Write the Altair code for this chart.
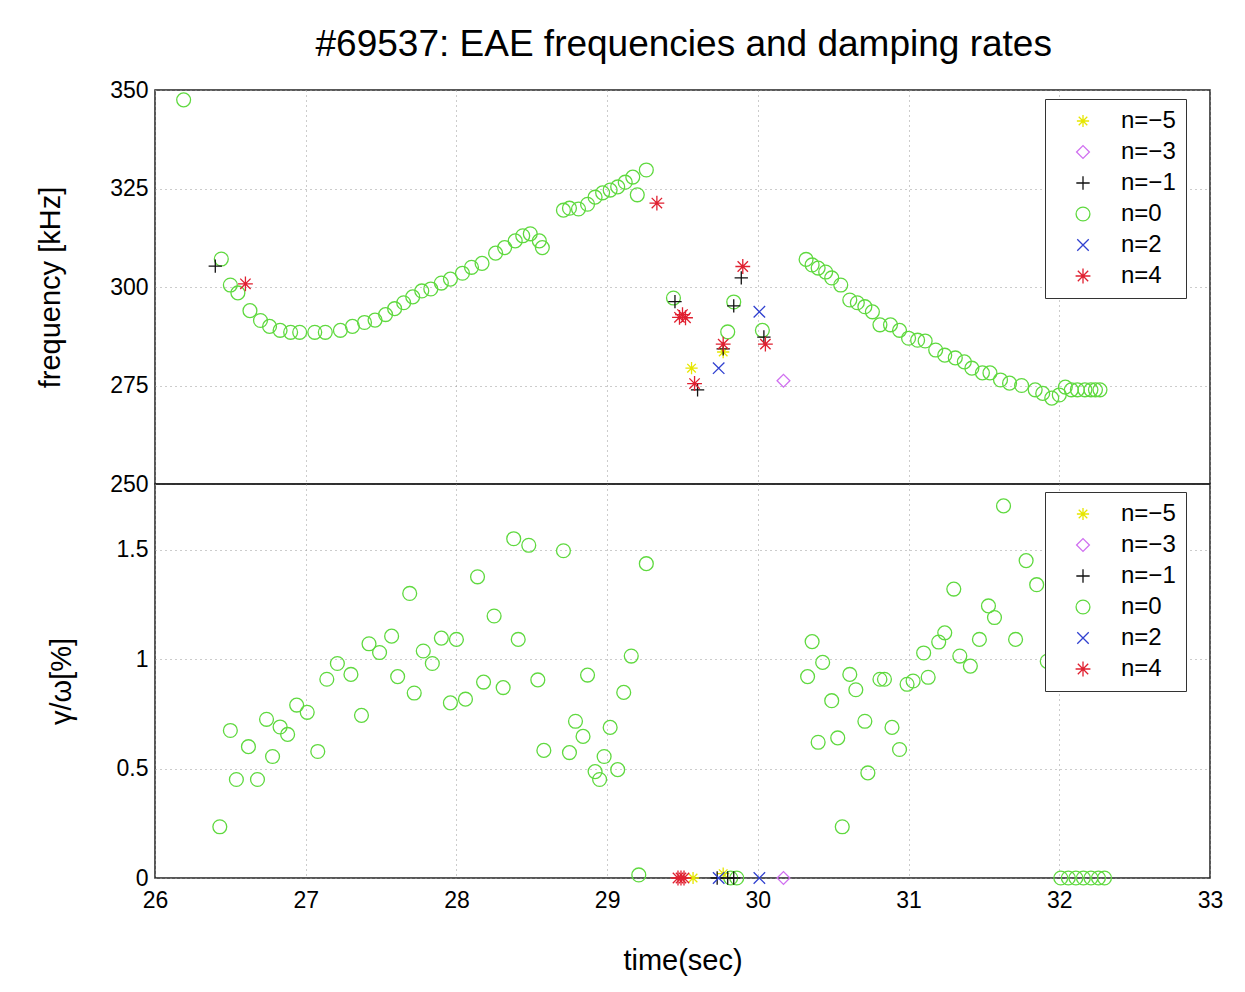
import altair as alt
import pandas as pd

TITLE = "#69537: EAE frequencies and damping rates"
MODES = ["n=\u22125", "n=\u22123", "n=\u22121", "n=0", "n=2", "n=4"]
COLORS = ["#e6e600", "#d070f0", "#111111", "#5fd93f", "#3040d0", "#e02030"]
STAR = "M-1,0L1,0M0,-1L0,1M-0.7,-0.7L0.7,0.7M-0.7,0.7L0.7,-0.7"
PLUS = "M-1,0L1,0M0,-1L0,1"
XMARK = "M-0.8,-0.8L0.8,0.8M-0.8,0.8L0.8,-0.8"
SHAPES = [STAR, "diamond", PLUS, "circle", XMARK, STAR]
SIZES = [150, 220, 170, 240, 110, 150]

X_TICKS = [26, 27, 28, 29, 30, 31, 32, 33]
F_TICKS = [250, 275, 300, 325, 350]
G_TICKS = [0, 0.5, 1, 1.5]

# ---------------- top panel: frequency ----------------
n0_top_t = [26.19, 26.44, 26.50, 26.55, 26.63, 26.70, 26.76, 26.83, 26.90, 26.96,
            27.06, 27.13, 27.23, 27.31, 27.39, 27.46, 27.53, 27.59, 27.65, 27.71,
            27.77, 27.83, 27.90, 27.96, 28.04, 28.10, 28.17, 28.26, 28.32, 28.39,
            28.44, 28.49, 28.55, 28.57, 28.71, 28.75, 28.81, 28.87, 28.92, 28.97,
            29.02, 29.07, 29.12, 29.17, 29.20, 29.26, 29.44, 29.80, 29.84, 30.03,
            30.32, 30.36, 30.40, 30.45, 30.49, 30.55, 30.61, 30.66, 30.71, 30.76,
            30.81, 30.88, 30.94, 31.00, 31.06, 31.11, 31.18, 31.24, 31.31, 31.37,
            31.42, 31.49, 31.54, 31.61, 31.67, 31.75, 31.84, 31.89, 31.95, 32.00,
            32.04, 32.08, 32.12, 32.17, 32.21, 32.24, 32.27]
n0_top_f = [347.5, 307.1, 300.5, 298.5, 294.0, 291.5, 290.0, 289.0, 288.5, 288.5,
            288.5, 288.5, 289.0, 290.0, 291.0, 291.6, 293.0, 294.5, 296.0, 297.5,
            299.0, 299.5, 301.0, 302.0, 303.5, 305.0, 306.0, 308.6, 310.0, 311.7,
            313.0, 313.5, 311.7, 310.0, 319.5, 320.0, 319.8, 321.0, 322.8, 323.9,
            324.6, 325.4, 326.6, 327.9, 323.4, 329.7, 297.2, 288.6, 296.2, 289.0,
            307.0, 305.6, 304.8, 303.8, 302.3, 300.5, 296.7, 296.0, 295.0, 293.7,
            290.4, 290.4, 289.0, 287.0, 286.5, 286.3, 284.0, 282.7, 282.0, 281.0,
            279.4, 278.2, 278.2, 276.4, 275.6, 275.0, 273.9, 273.0, 271.8, 272.6,
            274.6, 273.9, 273.9, 273.9, 273.9, 273.9, 273.9]

m5_top_t = [29.56, 29.77]
m5_top_f = [279.4, 283.5]
m3_top_t = [30.17]
m3_top_f = [276.2]
m1_top_t = [26.40, 29.45, 29.60, 29.77, 29.84, 29.89, 30.04]
m1_top_f = [305.3, 296.3, 273.9, 284.3, 295.2, 302.3, 287.3]
p2_top_t = [29.74, 30.01]
p2_top_f = [279.4, 293.7]
p4_top_t = [26.60, 29.33, 29.48, 29.50, 29.52, 29.58, 29.77, 29.90, 30.05]
p4_top_f = [300.8, 321.3, 292.3, 293.0, 292.2, 275.5, 285.5, 305.2, 285.5]

# ---------------- bottom panel: gamma/omega ----------------
n0_bot_t = [26.43, 26.50, 26.54, 26.62, 26.68, 26.74, 26.78, 26.83, 26.88, 26.94,
            27.01, 27.08, 27.14, 27.21, 27.30, 27.37, 27.42, 27.49, 27.57, 27.61,
            27.69, 27.72, 27.78, 27.84, 27.90, 27.96, 28.00, 28.06, 28.14, 28.18,
            28.25, 28.31, 28.38, 28.41, 28.48, 28.54, 28.58, 28.71, 28.75, 28.79,
            28.84, 28.87, 28.92, 28.95, 28.98, 29.02, 29.07, 29.11, 29.16, 29.26,
            29.21, 30.33, 30.36, 30.40, 30.43, 30.49, 30.53, 30.56, 30.61, 30.65,
            30.71, 30.73, 30.81, 30.84, 30.89, 30.94, 30.99, 31.03, 31.10, 31.13,
            31.20, 31.24, 31.30, 31.34, 31.41, 31.47, 31.53, 31.57, 31.63, 31.71,
            31.78, 31.85, 31.92, 29.82, 29.86, 32.01, 32.06, 32.11, 32.16, 32.21,
            32.26, 32.30]
n0_bot_g = [0.234, 0.674, 0.45, 0.60, 0.45, 0.725, 0.555, 0.69, 0.656, 0.79,
            0.757, 0.578, 0.908, 0.98, 0.93, 0.743, 1.07, 1.03, 1.105, 0.92,
            1.30, 0.845, 1.037, 0.98, 1.096, 0.80, 1.09, 0.817, 1.376, 0.895,
            1.197, 0.87, 1.55, 1.09, 1.52, 0.905, 0.583, 1.495, 0.573, 0.716,
            0.647, 0.927, 0.486, 0.45, 0.555, 0.688, 0.495, 0.848, 1.014, 1.436,
            0.014, 0.92, 1.08, 0.62, 0.985, 0.81, 0.64, 0.234, 0.93, 0.86,
            0.716, 0.48, 0.908, 0.908, 0.688, 0.587, 0.885, 0.90, 1.028, 0.917,
            1.078, 1.12, 1.32, 1.014, 0.968, 1.09, 1.243, 1.19, 1.70, 1.09,
            1.45, 1.34, 0.99, 0.0, 0.0, 0.0, 0.0, 0.0, 0.0, 0.0,
            0.0, 0.0]

m5_bot_t = [29.57, 29.77]
m5_bot_g = [0.0, 0.02]
m3_bot_t = [30.17]
m3_bot_g = [0.0]
m1_bot_t = [29.73, 29.80, 29.84]
m1_bot_g = [0.0, 0.0, 0.0]
p2_bot_t = [29.74, 30.01]
p2_bot_g = [0.0, 0.0]
p4_bot_t = [29.47, 29.49, 29.51]
p4_bot_g = [0.0, 0.0, 0.0]


def build(groups, ycol):
    rows = []
    for mode, ts, vs in groups:
        for t, v in zip(ts, vs):
            rows.append({"t": t, ycol: v, "mode": mode})
    return pd.DataFrame(rows)


top_df = build([(MODES[3], n0_top_t, n0_top_f), (MODES[0], m5_top_t, m5_top_f),
                (MODES[1], m3_top_t, m3_top_f), (MODES[2], m1_top_t, m1_top_f),
                (MODES[4], p2_top_t, p2_top_f), (MODES[5], p4_top_t, p4_top_f)], "f")
bot_df = build([(MODES[3], n0_bot_t, n0_bot_g), (MODES[0], m5_bot_t, m5_bot_g),
                (MODES[1], m3_bot_t, m3_bot_g), (MODES[2], m1_bot_t, m1_bot_g),
                (MODES[4], p2_bot_t, p2_bot_g), (MODES[5], p4_bot_t, p4_bot_g)], "g")

W, H = 1055, 394
FONT = "Liberation Sans"


def legend(y):
    return alt.Legend(title=None, orient="none", legendX=890, legendY=y,
                      labelFontSize=24, labelFont=FONT, labelColor="black",
                      labelExpr="datum.label + '   '",
                      symbolSize=70, symbolStrokeWidth=1.3, rowPadding=7,
                      symbolOffset=16, labelOffset=26, padding=10,
                      strokeColor="#333333", fillColor="white")


def encs(y):
    leg = legend(y)
    return dict(
        color=alt.Color("mode:N", scale=alt.Scale(domain=MODES, range=COLORS), legend=leg),
        shape=alt.Shape("mode:N", scale=alt.Scale(domain=MODES, range=SHAPES), legend=leg),
        size=alt.Size("mode:N", scale=alt.Scale(domain=MODES, range=SIZES), legend=None),
    )


top = alt.Chart(top_df).mark_point(filled=False, strokeWidth=1.3, opacity=1).encode(
    x=alt.X("t:Q", scale=alt.Scale(domain=[26, 33], nice=False),
            axis=alt.Axis(values=X_TICKS, labels=False, title=None)),
    y=alt.Y("f:Q", scale=alt.Scale(domain=[250, 350], nice=False),
            axis=alt.Axis(values=F_TICKS, title="frequency [kHz]", titlePadding=44)),
    **encs(9),
).properties(width=W, height=H)

bottom = alt.Chart(bot_df).mark_point(filled=False, strokeWidth=1.3, opacity=1).encode(
    x=alt.X("t:Q", scale=alt.Scale(domain=[26, 33], nice=False),
            axis=alt.Axis(values=X_TICKS, title="time(sec)", format="d", titlePadding=34,
                          labelFlush=False, labelPadding=11)),
    y=alt.Y("g:Q", scale=alt.Scale(domain=[0, 1.8], nice=False),
            axis=alt.Axis(values=G_TICKS, title="\u03b3/\u03c9[%]", format="~g", titlePadding=40)),
    **encs(8),
).properties(width=W, height=H)

chart = alt.vconcat(top, bottom, spacing=0, bounds="flush").resolve_legend(
    color="independent", shape="independent", size="independent"
).resolve_scale(color="independent", shape="independent", size="independent").properties(
    title=alt.TitleParams(TITLE, anchor="middle", fontSize=37, font=FONT,
                          fontWeight="normal", color="black", offset=14, dx=54),
    padding={"left": 35, "top": 26, "right": 8, "bottom": 0},
    background="white",
).configure_view(stroke="#222222", strokeWidth=1.5).configure_axis(
    grid=True, gridColor="#999999", gridDash=[1, 4], gridWidth=1,
    domain=False, ticks=False, labelPadding=7,
    labelFont=FONT, labelFontSize=23, labelColor="black",
    titleFont=FONT, titleFontSize=29, titleFontWeight="normal", titleColor="black",
)

chart.save("out.html", embed_options={"renderer": "svg", "actions": False})
